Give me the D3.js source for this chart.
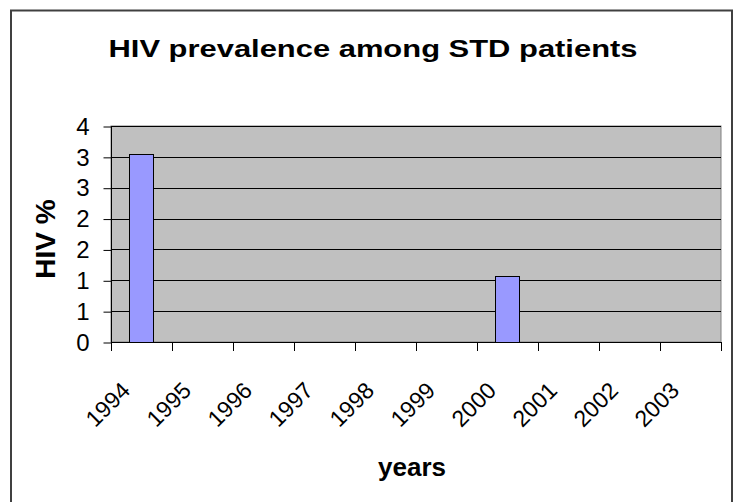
<!DOCTYPE html>
<html>
<head>
<meta charset="utf-8">
<script src="https://cdn.jsdelivr.net/npm/d3@7"></script>
<style>
  body { margin: 0; background: #fff; }
  text { font-family: Arial, "Liberation Sans", sans-serif; }
</style>
</head>
<body>
<div id="chart"></div>
<script>
// data
const years = ['1994', '1995', '1996', '1997', '1998', '1999', '2000', '2001', '2002', '2003'];
const hivPct = [3.05, null, null, null, null, null, 1.07, null, null, null];
const yTicks = [0, 0.5, 1, 1.5, 2, 2.5, 3, 3.5];

const title = 'HIV prevalence among STD patients';
const xTitle = 'years';
const yTitle = 'HIV %';

const config = {
    "width": 738,
    "height": 502,
    "plotLeft": 111,
    "plotTop": 126,
    "plotRight": 721,
    "plotBottom": 342
};

const svg = d3.select('#chart').append('svg')
    .attr('width', config.width)
    .attr('height', config.height);

svg.append('rect')
    .attr('width', config.width)
    .attr('height', config.height)
    .attr('fill', '#fff');

// outer chart border (runs off the bottom of the picture)
svg.append('rect')
    .attr('x', 11)
    .attr('y', 10.5)
    .attr('width', 721)
    .attr('height', 520)
    .attr('fill', 'none')
    .attr('stroke', '#404040')
    .attr('stroke-width', 2);

svg.append('text')
    .attr('x', 373)
    .attr('y', 57)
    .attr('text-anchor', 'middle')
    .attr('font-size', 24)
    .attr('font-weight', 'bold')
    .attr('textLength', 529)
    .attr('lengthAdjust', 'spacingAndGlyphs')
    .text(title);

let x = d3.scaleBand()
    .domain(years)
    .range([config.plotLeft, config.plotRight])
    .paddingInner(0.6)
    .paddingOuter(0.3);

let y = d3.scaleLinear()
    .domain([0, 3.5])
    .range([config.plotBottom, config.plotTop]);

// plot area
svg.append('rect')
    .attr('x', config.plotLeft)
    .attr('y', config.plotTop)
    .attr('width', config.plotRight - config.plotLeft)
    .attr('height', config.plotBottom - config.plotTop)
    .attr('fill', '#c0c0c0')
    .attr('stroke', '#808080');

// gridlines
svg.append('g')
    .selectAll('line')
    .data(yTicks.slice(1))
    .enter().append('line')
    .attr('x1', config.plotLeft)
    .attr('x2', config.plotRight)
    .attr('y1', d => Math.round(y(d)) + 0.5)
    .attr('y2', d => Math.round(y(d)) + 0.5)
    .attr('stroke', '#000');

// bars
svg.append('g')
    .selectAll('rect')
    .data(years.map((d, i) => ({year: d, v: hivPct[i]})).filter(d => d.v !== null))
    .enter().append('rect')
    .attr('x', d => Math.round(x(d.year)) + 0.5)
    .attr('y', d => Math.round(y(d.v)) + 0.5)
    .attr('width', Math.round(x.bandwidth()))
    .attr('height', d => Math.round(y(0)) - Math.round(y(d.v)))
    .attr('fill', '#9999ff')
    .attr('stroke', '#000');

// y axis
let yAxis = d3.axisLeft(y)
    .tickValues(yTicks)
    .tickSize(8)
    .tickPadding(14)
    .tickFormat(d => Math.round(d));

let yg = svg.append('g')
    .attr('transform', 'translate(' + (config.plotLeft + 0.5) + ',0.5)')
    .call(yAxis);
yg.select('.domain').attr('d', 'M0,' + config.plotTop + 'V' + config.plotBottom).attr('stroke', '#000');
yg.selectAll('line').attr('stroke', '#000');
yg.selectAll('text')
    .attr('font-size', 24)
    .attr('font-family', 'Arial, "Liberation Sans", sans-serif')
    .attr('fill', '#000');

// x axis: ticks sit on category boundaries
let bounds = d3.range(years.length + 1).map(i => config.plotLeft + i * (config.plotRight - config.plotLeft) / years.length);

let xg = svg.append('g');
xg.append('line')
    .attr('x1', config.plotLeft)
    .attr('x2', config.plotRight)
    .attr('y1', config.plotBottom + 0.5)
    .attr('y2', config.plotBottom + 0.5)
    .attr('stroke', '#000');
xg.selectAll('.xtick')
    .data(bounds)
    .enter().append('line')
    .attr('class', 'xtick')
    .attr('x1', d => Math.round(d) + 0.5)
    .attr('x2', d => Math.round(d) + 0.5)
    .attr('y1', config.plotBottom)
    .attr('y2', config.plotBottom + 9)
    .attr('stroke', '#000');

xg.selectAll('.xlabel')
    .data(years)
    .enter().append('text')
    .attr('class', 'xlabel')
    .attr('font-size', 23)
    .attr('text-anchor', 'end')
    .attr('transform', d => 'translate(' + (x(d) + x.bandwidth() / 2 - 10) + ',' + 392 + ') rotate(-45)')
    .text(d => d);

// axis titles
svg.append('text')
    .attr('x', 412)
    .attr('y', 476)
    .attr('text-anchor', 'middle')
    .attr('font-size', 26)
    .attr('font-weight', 'bold')
    .text(xTitle);

svg.append('text')
    .attr('transform', 'translate(55,239) rotate(-90)')
    .attr('text-anchor', 'middle')
    .attr('font-size', 28)
    .attr('font-weight', 'bold')
    .text(yTitle);
</script>
</body>
</html>
